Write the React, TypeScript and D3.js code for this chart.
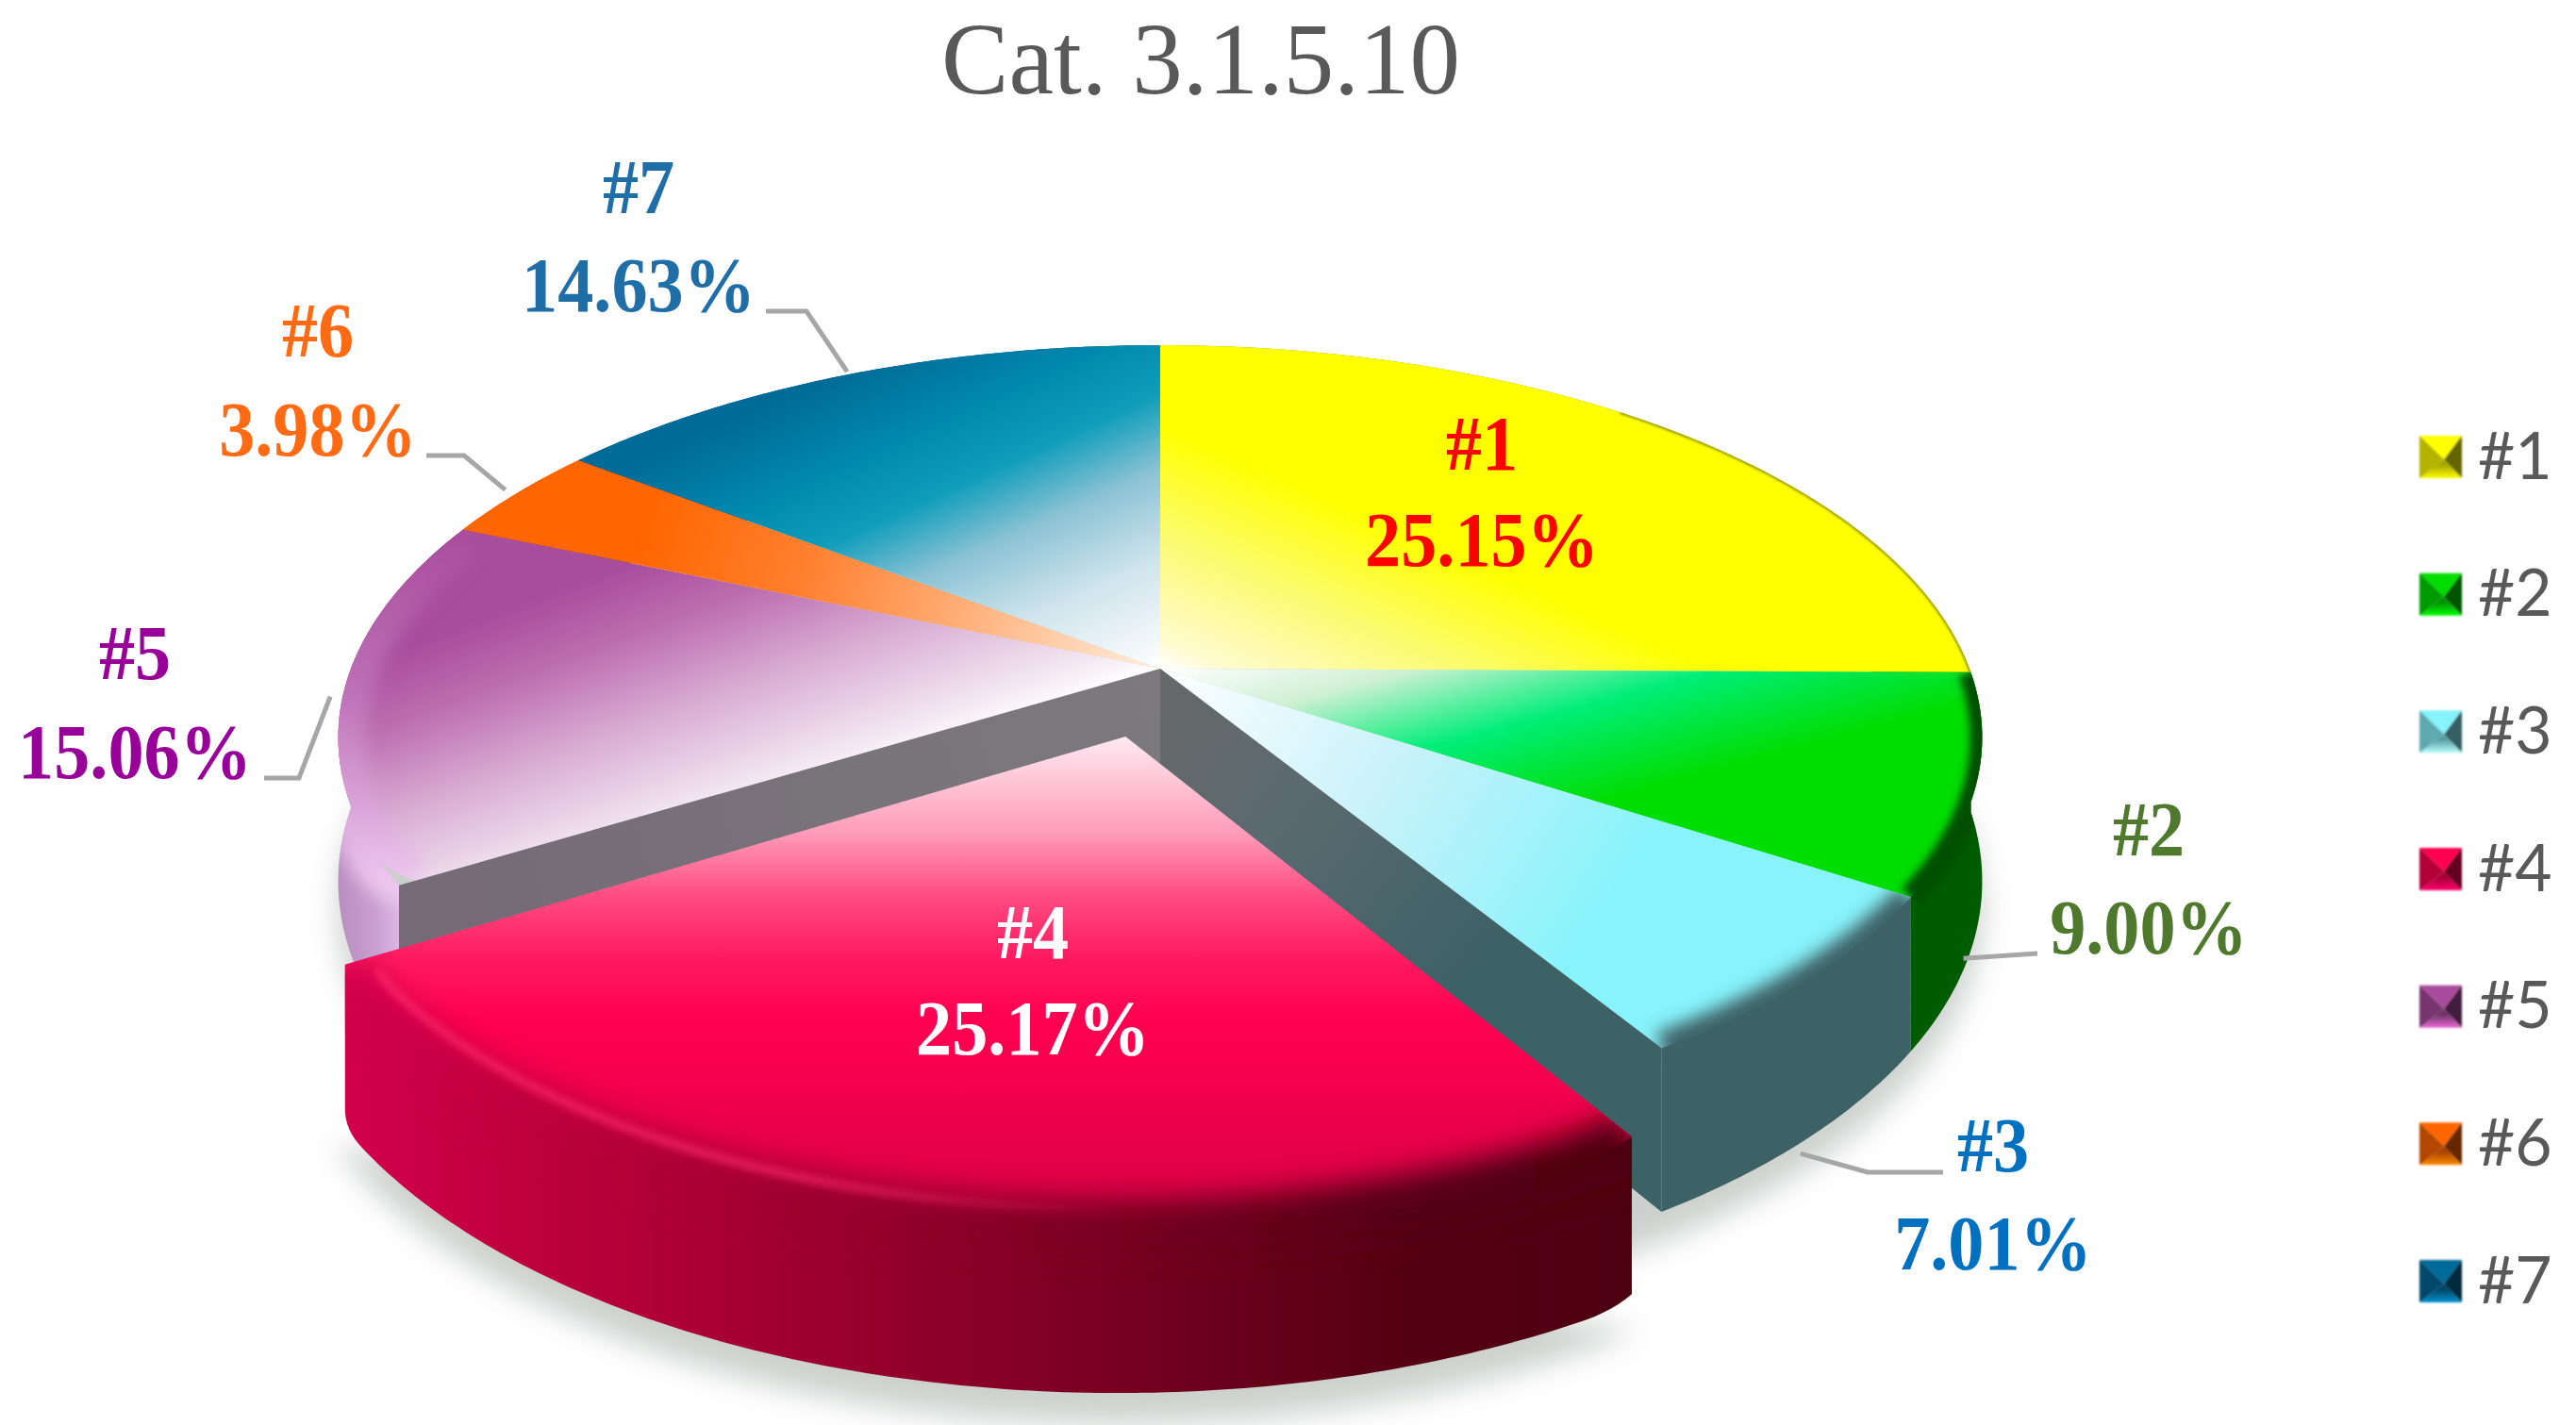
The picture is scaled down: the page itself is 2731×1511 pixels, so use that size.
import * as d3 from 'd3'

const W = 2731
const H = 1511

// data
const names = ['#1', '#2', '#3', '#4', '#5', '#6', '#7']
const shares = [25.15, 9.0, 7.01, 25.17, 15.06, 3.98, 14.63]
const pctLabels = ['25.15%', '9.00%', '7.01%', '25.17%', '15.06%', '3.98%', '14.63%']
const title = 'Cat. 3.1.5.10'

// colours
const baseColors = ['#ffff00', '#00dd00', '#87f3fb', '#ff0050', '#a84c9c', '#ff6600', '#006a98']
const wallColors = ['#8a8a00', '#005c00', '#3d6266', '#8a0028', '#c59ccb', '#b84a00', '#004a6a']
const labelColors = ['#ff0000', '#4f7a2e', '#0070c0', '#ffffff', '#990099', '#ff6a13', '#1f6ea8']
const faceStops: [number, string][][] = [
  [[0, '#ffffff'], [0.12, '#fffbd0'], [0.55, '#fbfb70'], [1, '#ffff00']],
  [[0, '#ffffff'], [0.27, '#d0f0d4'], [0.6, '#00ee78'], [1, '#00dd00']],
  [[0, '#ffffff'], [0.5, '#c8f2fa'], [1, '#87f3fb']],
  [[0, '#ffe8f0'], [0.19, '#ff9dbb'], [0.32, '#ff4d82'], [0.45, '#ff1a60'], [0.58, '#ff0050'], [1, '#d80048']],
  [[0, '#ffffff'], [0.12, '#f3e8f2'], [0.45, '#d9aed4'], [0.75, '#bd6fb0'], [1, '#a84c9c']],
  [[0, '#fff0e0'], [0.3, '#ffb07a'], [0.55, '#ff8030'], [0.8, '#ff6600'], [1, '#ff6600']],
  [[0, '#ffffff'], [0.25, '#cfe4ec'], [0.45, '#8bc2d4'], [0.62, '#0e9dbb'], [0.8, '#0086ad'], [1, '#006a98']],
]

// pie projection
const cx = 1230
const cy = 709
const rx = 858
const ry = 403
const persp = 0.175
const depth = 148
const explode = [0, 0, 0, 0.178, 0, 0, 0]
const wallDrop = [1, 1, 1, 0.93, 1, 1, 1]
// rounding of the corners next to the gap: [start of slice, end of slice]
const cornerRound = [[0, 0], [0, 0], [0, 0], [0.012, 0.012], [0.02, 0], [0, 0], [0, 0]]

// label layout: centre x, baseline of name, baseline of percentage, elbow and leader tip
const labelX = [1571, 2278, 2113, 1095, 143, 337, 677]
const nameY = [498, 907, 1242, 1016, 720, 378, 226]
const pctY = [600, 1011, 1346, 1118, 825, 483, 330]
const leaderStart = [null, 2160, 2060, null, 280, 452, 812]
const leaderElbow = [null, 2160, 1980, null, 317, 492, 855]
const leaderDrop = [0, 1.2, 1.12, 0, 0, 0, 0]
const leaderReach = [0, 0.985, 0.99, 0, 1.015, 1.02, 1.01]

const pieGen = d3.pie<number>().sort(null).value(d => d)
const arcs = pieGen(shares)

function project(a: number, r: number, drop: number, off = 0, mid = 0) {
  const u = r * Math.sin(a) + off * Math.sin(mid)
  const v = -r * Math.cos(a) - off * Math.cos(mid)
  const w = 1 - persp * v
  return [cx + (rx * u) / w, cy + (ry * v) / w + (depth * drop) / w] as [number, number]
}

const line = d3.line()
const sweep = (a0: number, a1: number) => {
  const n = Math.max(6, Math.ceil(Math.abs(a1 - a0) * 90))
  return d3.range(n + 1).map(i => a0 + ((a1 - a0) * i) / n)
}

const midOf = (s: { startAngle: number; endAngle: number }) => (s.startAngle + s.endAngle) / 2

// rim radius at an angle, pulled in a little near rounded corners
function rimRadius(i: number, a: number) {
  const s = arcs[i]
  const [c0, c1] = cornerRound[i]
  const span = 0.07
  const t0 = Math.max(0, 1 - (a - s.startAngle) / span)
  const t1 = Math.max(0, 1 - (s.endAngle - a) / span)
  return 1 - c0 * t0 * t0 - c1 * t1 * t1
}

function facePath(i: number) {
  const s = arcs[i]
  const m = midOf(s)
  const e = explode[i]
  const pts = [project(0, 0, 0, e, m), ...sweep(s.startAngle, s.endAngle).map(a => project(a, rimRadius(i, a), 0, e, m))]
  return line(pts) + 'Z'
}

function wallPath(i: number) {
  const s = arcs[i]
  const m = midOf(s)
  const e = explode[i]
  const as = sweep(s.startAngle, s.endAngle)
  const rr = (a: number) => (i === 3 ? rimRadius(i, a) : 1)
  const pts = [
    ...as.map(a => project(a, rr(a), 0, e, m)),
    ...as.slice().reverse().map(a => project(a, rr(a), wallDrop[i], e, m)),
  ]
  return line(pts) + 'Z'
}

function rimPath(i: number, r = 1, a0?: number, a1?: number) {
  const s = arcs[i]
  const m = midOf(s)
  const as = sweep(a0 ?? s.startAngle, a1 ?? s.endAngle)
  return line(as.map(a => project(a, r * rimRadius(i, a), 0, explode[i], m))) as string
}

function cutPath(a: number) {
  return line([project(a, 0, 0), project(a, 1, 0), project(a, 1, 1), project(a, 0, 1)]) + 'Z'
}

const shadowPath = () => {
  const a4 = arcs[3]
  const ring = sweep(0, Math.PI * 2).map(a => project(a, 1, 1.1))
  const front = sweep(a4.startAngle, a4.endAngle).map(a => project(a, 1, 1.03, explode[3], midOf(a4)))
  return line(ring) + 'Z' + line(front) + 'Z'
}

// gradient vectors for the top faces
const faceVectors = [
  [cx, cy, cx + 96, cy - 216],
  [cx, cy, cx + 68, cy + 251],
  [cx, cy, cx + 450, cy + 291],
  [cx, 783, cx, 1300],
  [cx, cy, cx - 105, cy - 282],
  [cx, cy, ...project(midOf(arcs[5]), 1, 0)],
  [cx, cy, cx - 178, cy - 391],
]

// legend
const legendY = d3.scalePoint<string>().domain(names).range([484.5, 1358.5])
const legendX = 2565
const mark = 45

function LegendMark({ i }: { i: number }) {
  const c = baseColors[i]
  const y = (legendY(names[i]) as number) - mark / 2
  const hub: [number, number] = [legendX + mark * 0.58, y + mark * 0.56]
  const tl: [number, number] = [legendX, y]
  const tr: [number, number] = [legendX + mark, y]
  const br: [number, number] = [legendX + mark, y + mark]
  const bl: [number, number] = [legendX, y + mark]
  const col = d3.color(c) as d3.RGBColor
  return (
    <g filter="url(#blurTiny)">
      <path d={line([tl, tr, hub]) + 'Z'} fill={c} />
      <path d={line([tr, br, hub]) + 'Z'} fill={col.darker(2.6).formatHex()} />
      <path d={line([bl, br, hub]) + 'Z'} fill={`url(#legendBottom${i})`} />
      <path d={line([tl, bl, hub]) + 'Z'} fill={col.darker(1).formatHex()} />
    </g>
  )
}

export default function App() {
  const a = arcs
  const wallOrder = [0, 1, 2, 4, 5, 6]

  return (
    <svg width={W} height={H} viewBox={`0 0 ${W} ${H}`} style={{ position: 'fixed', left: 0, top: 0, display: 'block', background: '#fff' }}>
      <defs>
        <filter id="blurBig" x="-20%" y="-20%" width="140%" height="140%">
          <feGaussianBlur stdDeviation="16" />
        </filter>
        <filter id="blurWide" x="-20%" y="-20%" width="140%" height="140%">
          <feGaussianBlur stdDeviation="15" />
        </filter>
        <filter id="blurMid" x="-20%" y="-20%" width="140%" height="140%">
          <feGaussianBlur stdDeviation="9" />
        </filter>
        <filter id="blurSmall" x="-20%" y="-20%" width="140%" height="140%">
          <feGaussianBlur stdDeviation="4" />
        </filter>
        <filter id="blurTiny" x="-10%" y="-10%" width="120%" height="120%">
          <feGaussianBlur stdDeviation="1" />
        </filter>
        {names.map((n, i) => {
          const v = faceVectors[i]
          return (
            <linearGradient key={n} id={`face${i}`} gradientUnits="userSpaceOnUse" x1={v[0]} y1={v[1]} x2={v[2]} y2={v[3]}>
              {faceStops[i].map(([o, c]) => <stop key={o} offset={o} stopColor={c} />)}
            </linearGradient>
          )
        })}
        {names.map((n, i) => {
          const col = d3.color(baseColors[i]) as d3.RGBColor
          return (
            <linearGradient key={n} id={`legendBottom${i}`} x1="0" y1="0" x2="0" y2="1">
              <stop offset="0.3" stopColor={col.darker(1.2).formatHex()} />
              <stop offset="1" stopColor={col.brighter(0.9).formatHex()} />
            </linearGradient>
          )
        })}
        <linearGradient id="wall4" gradientUnits="userSpaceOnUse" x1="350" y1="0" x2="1730" y2="0">
          <stop offset="0" stopColor="#d4004c" />
          <stop offset="0.22" stopColor="#b40038" />
          <stop offset="0.5" stopColor="#880026" />
          <stop offset="0.8" stopColor="#580014" />
          <stop offset="1" stopColor="#4c0010" />
        </linearGradient>
        <linearGradient id="glow4" gradientUnits="userSpaceOnUse" x1="370" y1="0" x2="1180" y2="0">
          <stop offset="0" stopColor="#ff2a70" stopOpacity="0.9" />
          <stop offset="0.6" stopColor="#ff2a70" stopOpacity="0.8" />
          <stop offset="1" stopColor="#ff2a70" stopOpacity="0" />
        </linearGradient>
        <linearGradient id="wall5" gradientUnits="userSpaceOnUse" x1="350" y1="0" x2="430" y2="0">
          <stop offset="0" stopColor="#b48abc" />
          <stop offset="0.6" stopColor="#c8a0cf" />
          <stop offset="1" stopColor="#e4bce8" />
        </linearGradient>
        <linearGradient id="rim5" gradientUnits="userSpaceOnUse" x1="0" y1="560" x2="0" y2="940">
          <stop offset="0" stopColor="#a84c9c" />
          <stop offset="0.45" stopColor="#bd70b6" />
          <stop offset="1" stopColor="#eec8f0" />
        </linearGradient>
        <linearGradient id="cut3" gradientUnits="userSpaceOnUse" x1={cx} y1={cy} x2="1750" y2="1110">
          <stop offset="0" stopColor="#686868" />
          <stop offset="0.3" stopColor="#5a6a70" />
          <stop offset="0.7" stopColor="#3d6266" />
        </linearGradient>
        <linearGradient id="cut5" gradientUnits="userSpaceOnUse" x1={cx} y1={cy} x2="430" y2="937">
          <stop offset="0" stopColor="#7c7a7d" />
          <stop offset="1" stopColor="#756a76" />
        </linearGradient>
        {names.map((n, i) => (
          <clipPath key={n} id={`clipBody${i}`}>
            <path d={facePath(i)} />
            <path d={wallPath(i)} />
          </clipPath>
        ))}
      </defs>

      <rect width={W} height={H} fill="#fff" />

      <text x={1273} y={99} textAnchor="middle" fontFamily="'Liberation Serif', serif" fontSize={107} fill="#595959">
        {title}
      </text>

      <path d={shadowPath()} fill="#9aa39c" opacity={0.5} filter="url(#blurBig)" transform="translate(0,14)" />

      {/* outer walls that stay in place */}
      {wallOrder.map(i => (
        <path key={i} d={wallPath(i)} fill={i === 4 ? 'url(#wall5)' : wallColors[i]} />
      ))}

      {/* top faces */}
      {wallOrder.map(i => (
        <path key={i} d={facePath(i)} fill={`url(#face${i})`} />
      ))}

      {/* soft bevel along the rim */}
      <g clipPath="url(#clipBody0)">
        <path d={rimPath(0, 1, 0.7)} fill="none" stroke="#7d7d00" strokeWidth={4} opacity={0.7} filter="url(#blurTiny)" />
      </g>
      <g clipPath="url(#clipBody1)">
        <path d={rimPath(1)} fill="none" stroke="#005000" strokeWidth={26} filter="url(#blurSmall)" />
      </g>
      <g clipPath="url(#clipBody2)">
        <path d={rimPath(2)} fill="none" stroke="#3d6266" strokeWidth={34} filter="url(#blurMid)" />
      </g>
      <g clipPath="url(#clipBody4)">
        <path d={rimPath(4)} fill="none" stroke="url(#rim5)" strokeWidth={60} filter="url(#blurMid)" />
      </g>

      {/* faces left open by the pulled out slice */}
      <path d={cutPath(a[2].endAngle)} fill="url(#cut3)" />
      <path d={cutPath(a[3].endAngle)} fill="url(#cut5)" />

      {/* pulled out slice */}
      <path d={wallPath(3)} fill="url(#wall4)" />
      <path d={facePath(3)} fill="url(#face3)" />
      <g clipPath="url(#clipBody3)">
        <path d={rimPath(3)} fill="none" stroke="url(#wall4)" strokeWidth={64} filter="url(#blurWide)" />
        <path d={rimPath(3, 0.965, a[3].startAngle + 0.5, a[3].endAngle - 0.03)} fill="none" stroke="url(#glow4)" strokeWidth={7} filter="url(#blurSmall)" />
      </g>

      {/* leader lines */}
      {names.map((n, i) => {
        const startX = leaderStart[i]
        if (startX == null) return null
        const tip = project(midOf(a[i]), leaderReach[i], leaderDrop[i])
        const y = pctY[i] + (i === 2 ? -103 : 0)
        return (
          <path key={n} d={line([[startX, y], [leaderElbow[i] as number, y], tip]) as string} fill="none" stroke="#a6a6a6" strokeWidth={5} />
        )
      })}

      {/* data labels */}
      {names.map((n, i) => (
        <g key={n} fontFamily="'Liberation Serif', serif" fontWeight={700} fontSize={82} fill={labelColors[i]} textAnchor="middle">
          <text transform={`translate(${labelX[i]},${nameY[i]}) scale(0.93,1)`}>{n}</text>
          <text transform={`translate(${labelX[i]},${pctY[i]}) scale(0.93,1)`}>{pctLabels[i]}</text>
        </g>
      ))}

      {/* legend */}
      {names.map((n, i) => (
        <g key={n}>
          <LegendMark i={i} />
          <text transform={`translate(2627,${(legendY(n) as number) + 23}) scale(0.97,1)`} fontFamily="Lato, sans-serif" fontSize={70} fill="#595959">
            {n}
          </text>
        </g>
      ))}
    </svg>
  )
}
